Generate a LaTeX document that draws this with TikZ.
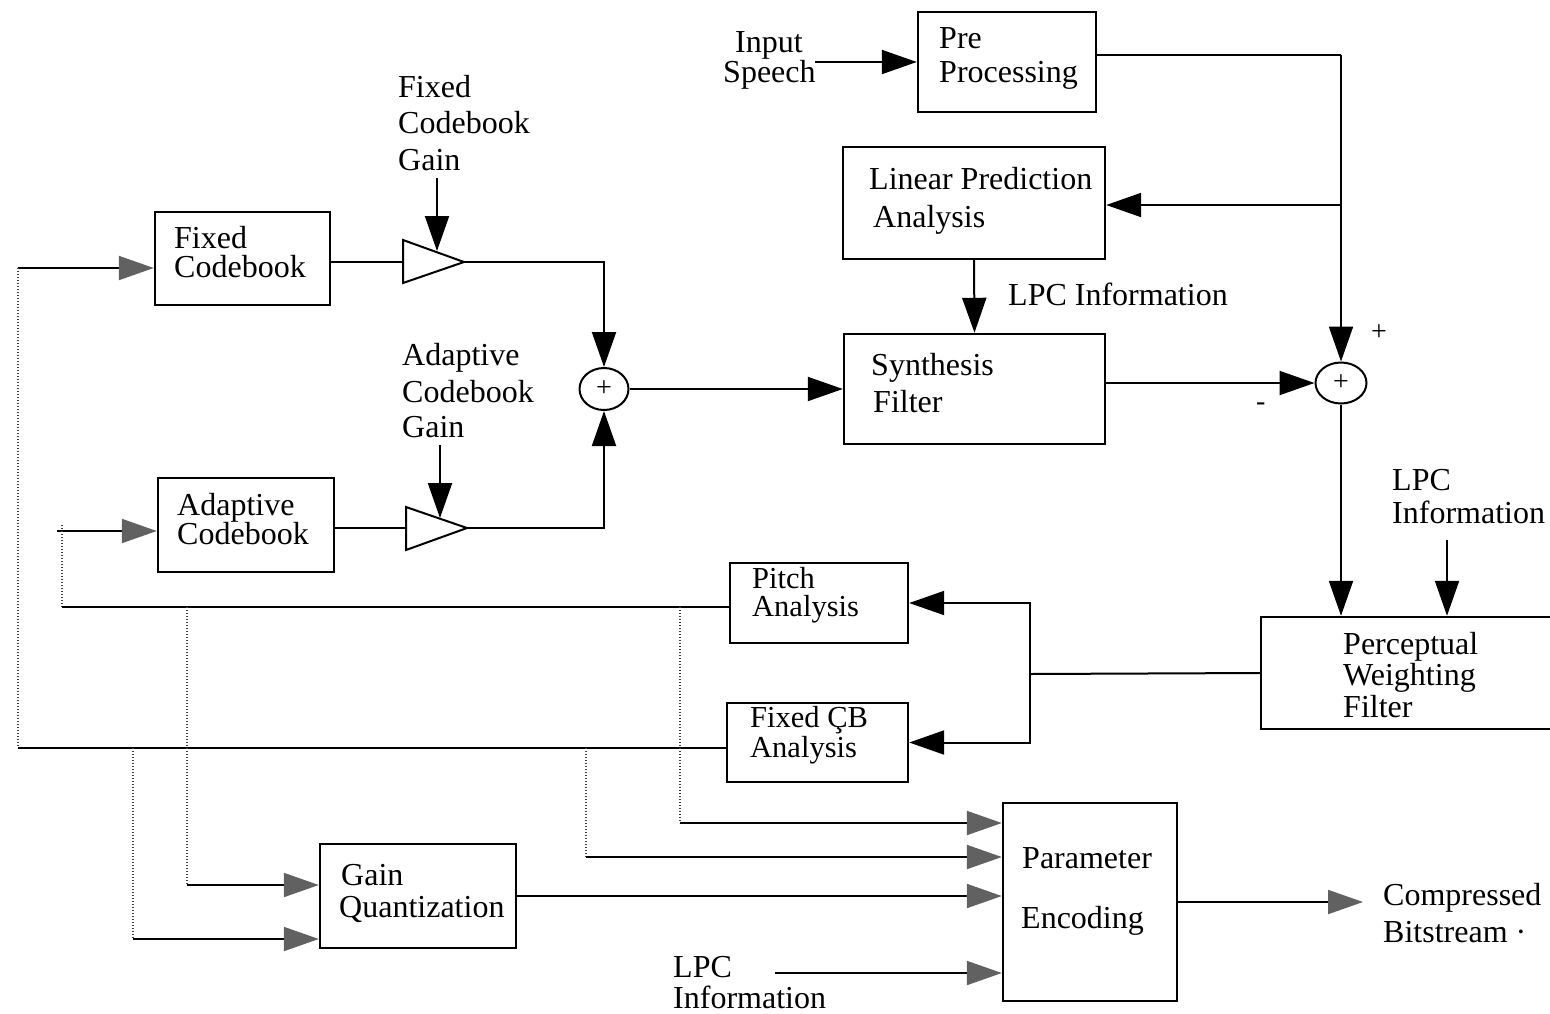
\documentclass[tikz,border=0pt]{standalone}
\usepackage{fontspec}
\setmainfont{Liberation Serif}
\usetikzlibrary{arrows.meta,shapes.geometric}
\begin{document}
\begin{tikzpicture}[x=1pt,y=-1pt,
  box/.style={draw, line width=2.4pt, inner sep=0pt},
  ln/.style={line width=2pt},
  arr/.style={ln, -{Triangle[length=35pt,width=24pt]}},
  garr/.style={ln, -{Triangle[length=35pt,width=24pt,color=black!62]}},
  dotl/.style={line width=1.2pt, black!75, dash pattern=on 1.2pt off 1.8pt},
  lbl/.style={anchor=base west, inner sep=0pt, font=\fontsize{32}{36}\selectfont},
  lbs/.style={anchor=base west, inner sep=0pt, font=\fontsize{30.5}{34}\selectfont},
  sml/.style={anchor=base west, inner sep=0pt, font=\fontsize{28}{28}\selectfont},
  sumnode/.style={draw, ellipse, line width=2pt, inner sep=0pt, minimum width=49pt, minimum height=42pt, font=\fontsize{28}{28}\selectfont},
]
\path[fill=white] (0,0) rectangle (1550,1013);
\useasboundingbox (0,0) rectangle (1550,1013);

% ---------- boxes ----------
\node[box, minimum width=178pt, minimum height=100pt] (pre)   at (1007,62)  {};
\node[box, minimum width=262pt, minimum height=112pt] (lpa)   at (974,203)  {};
\node[box, minimum width=261pt, minimum height=110pt] (syn)   at (974.5,389) {};
\node[box, minimum width=175pt, minimum height=93pt]  (fcb)   at (242.5,258.5) {};
\node[box, minimum width=176pt, minimum height=94pt]  (acb)   at (246,525)  {};
\node[box, minimum width=178pt, minimum height=80pt]  (pitch) at (819,603)  {};
\node[box, minimum width=181pt, minimum height=79pt]  (fcba)  at (817.5,742.5) {};
\node[box, minimum width=196pt, minimum height=104pt] (gq)    at (418,896)  {};
\node[box, minimum width=174pt, minimum height=198pt] (pe)    at (1090,902) {};
\node[box, minimum width=300pt, minimum height=112pt] (pwf)   at (1411,673) {};

% ---------- summing junctions ----------
\node[sumnode] (sum1) at (604,389) {+};
\node[sumnode, minimum width=51pt, minimum height=41pt] (sum2) at (1341,383) {+};

% ---------- texts ----------
\node[lbl] (t01) at (735,52) {Input};
\node[lbl] (t02) at (723,82) {Speech};
\node[lbl] (t03) at (939,48) {Pre};
\node[lbl] (t04) at (939,82) {Processing};
\node[lbl] (t05) at (869,189) {Linear Prediction};
\node[lbl] (t06) at (873,227) {Analysis};
\node[lbl] (t07) at (1008,305) {LPC Information};
\node[lbl] (t08) at (871,375) {Synthesis};
\node[lbl] (t09) at (873,412) {Filter};
\node[lbl] (t10) at (398,97) {Fixed};
\node[lbl] (t11) at (398,133) {Codebook};
\node[lbl] (t12) at (398,170) {Gain};
\node[lbl] (t13) at (174,248) {Fixed};
\node[lbl] (t14) at (174,277) {Codebook};
\node[lbl] (t15) at (402,365) {Adaptive};
\node[lbl] (t16) at (402,402) {Codebook};
\node[lbl] (t17) at (402,437) {Gain};
\node[lbl, text depth=4pt] (t18) at (177,515) {Adaptive};
\node[lbl, text height=20pt] (t19) at (177,544) {Codebook};
\node[lbs, text depth=0pt] (t20) at (752,588) {Pitch};
\node[lbs, text height=20pt] (t21) at (752,616) {Analysis};
\node[lbs, text depth=0pt] (t22) at (750,727) {Fixed ÇB};
\node[lbs, text height=20pt] (t23) at (750,757) {Analysis};
\node[lbl] (t24) at (1392,490) {LPC};
\node[lbl] (t25) at (1392,523) {Information};
\node[lbl] (t26) at (1343,654) {Perceptual};
\node[lbl] (t27) at (1343,685) {Weighting};
\node[lbl] (t28) at (1343,717) {Filter};
\node[lbl] (t29) at (341,885) {Gain};
\node[lbl] (t30) at (339,917) {Quantization};
\node[lbl] (t31) at (1022,868) {Parameter};
\node[lbl] (t32) at (1021,928) {Encoding};
\node[lbl] (t33) at (673,977) {LPC};
\node[lbl] (t34) at (673,1008) {Information};
\node[lbl] (t35) at (1383,905) {Compressed};
\node[lbl] (t36) at (1383,942) {Bitstream ·};
\node[sml] (t37) at (1371,340) {+};
\node[sml] (t38) at (1256,410) {-};

% ---------- amplifiers ----------
\draw[ln] (403,240) -- (464,262) -- (403,283) -- cycle;
\draw[ln] (406,507) -- (467,528) -- (406,550) -- cycle;
\coordinate (t1in)  at (403,262);
\coordinate (t1out) at (464,262);
\coordinate (t1top) at (437,251);
\coordinate (t2in)  at (406,528);
\coordinate (t2out) at (467,528);
\coordinate (t2top) at (440,518);
\coordinate (g1) at (437,178);
\coordinate (g2) at (440,445);

% ---------- helper coordinates ----------
\coordinate (ins) at (815,62);
\coordinate (j1) at (1341,55);
\coordinate (j2) at (1341,205);
\coordinate (j3) at (1030,674);
\coordinate (l2) at (1447,540);
\coordinate (l3) at (775,973);
\coordinate (cbt) at (1363,902);
\coordinate (d1)  at (18,268);
\coordinate (d1b) at (18,748);
\coordinate (d2)  at (62,531);
\coordinate (d2s) at (57,531);
\coordinate (d2t) at (62,525);
\coordinate (d2b) at (62,607);
\coordinate (v1) at (187,607);
\coordinate (v1b) at (187,885);
\coordinate (v2) at (133,748);
\coordinate (v2b) at (133,939);
\coordinate (v3) at (680,607);
\coordinate (v3b) at (680,823);
\coordinate (v4) at (586,748);
\coordinate (v4b) at (586,857);

% ---------- top right chain ----------
\draw[arr] (ins) -- (pre.west);
\draw[ln] (pre.east |- j1) -- (j1);
\draw[arr] (j1) -- (sum2.north);
\draw[arr] (j2) -- (lpa.east |- j2);
\draw[arr] (lpa.south) -- (syn.north);
\draw[arr] (syn.east |- sum2) -- (sum2.west);
\draw[arr] (sum2.south) -- (sum2.south |- pwf.north);
\draw[arr] (l2) -- (l2 |- pwf.north);
\draw[ln] (pwf.west) -- (j3);
\draw[arr] (j3) |- (pitch.east);
\draw[arr] (j3) |- (fcba.east);

% ---------- codebooks and gains ----------
\draw[ln] (fcb.east |- t1in) -- (t1in);
\draw[ln] (acb.east |- t2in) -- (t2in);
\draw[arr] (g1) -- (t1top);
\draw[arr] (g2) -- (t2top);
\draw[arr] (t1out) -| (sum1.north);
\draw[arr] (t2out) -| (sum1.south);
\draw[arr] (sum1.east) -- (syn.west);

% ---------- feedback to codebooks ----------
\draw[garr] (d1) -- (fcb.west |- d1);
\draw[dotl] (d1) -- (d1b);
\draw[ln] (d1b) -- (fcba.west |- d1b);
\draw[garr] (d2s) -- (acb.west |- d2);
\draw[dotl] (d2t) -- (d2b);
\draw[ln] (d2b) -- (pitch.west |- d2b);

% ---------- to gain quantization ----------
\draw[dotl] (v1) -- (v1b);
\draw[garr] (v1b) -- (gq.west |- v1b);
\draw[dotl] (v2) -- (v2b);
\draw[garr] (v2b) -- (gq.west |- v2b);

% ---------- to parameter encoding ----------
\draw[dotl] (v3) -- (v3b);
\draw[garr] (v3b) -- (pe.west |- v3b);
\draw[dotl] (v4) -- (v4b);
\draw[garr] (v4b) -- (pe.west |- v4b);
\draw[garr] (gq.east) -- (pe.west |- gq.east);
\draw[garr] (l3) -- (pe.west |- l3);
\draw[garr] (pe.east |- cbt) -- (cbt);
\end{tikzpicture}
\end{document}
